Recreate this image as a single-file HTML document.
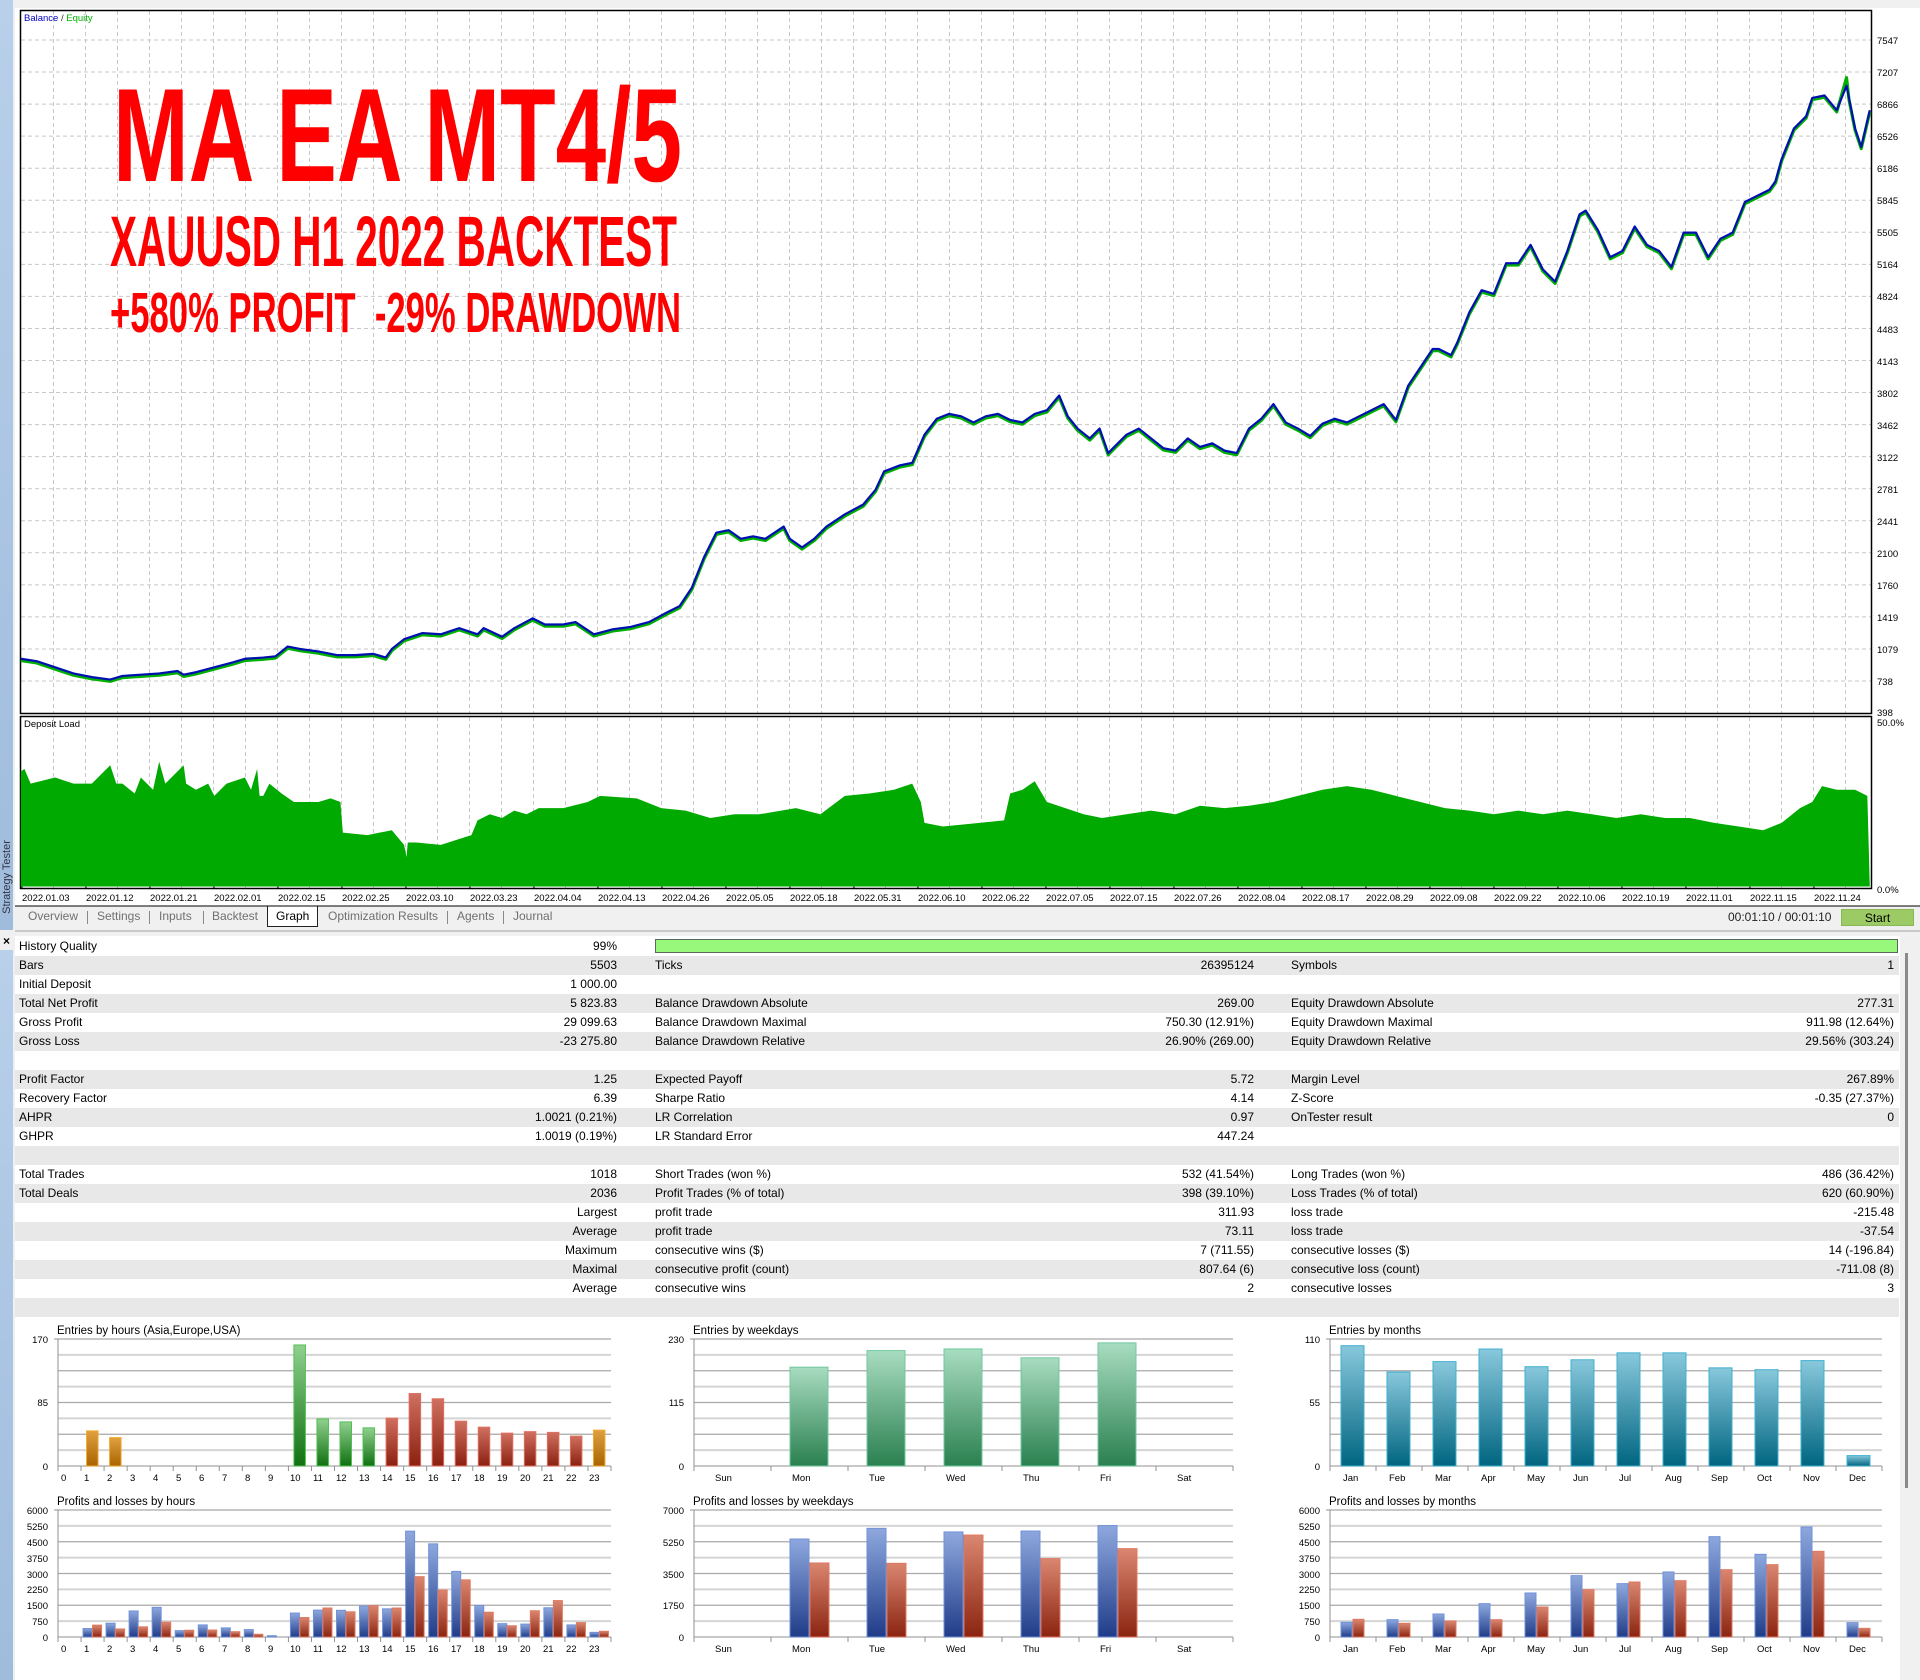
<!DOCTYPE html>
<html><head><meta charset="utf-8">
<style>
*{margin:0;padding:0;box-sizing:border-box}
body{width:1920px;height:1680px;background:#f0f0f0;position:relative;overflow:hidden;font-family:"Liberation Sans",sans-serif;color:#000}
.abs{position:absolute}
.row{position:absolute;left:15px;width:1884px;height:19px;font-size:12px;line-height:19px}
.row.g{background:#e8e8e8}
.row span{position:absolute;white-space:nowrap}
.l1{left:4px}.v1{right:1282px}.l2{left:640px}.v2{right:645px}.l3{left:1276px}.v3{right:5px}
.tab{position:absolute;top:909px;font-size:12px;color:#707070}
</style></head><body>
<div class="abs" style="left:0;top:0;width:13px;height:930px;background:linear-gradient(#b8d0ea,#9fbcdc)"></div>
<div class="abs" style="left:0;top:950px;width:13px;height:730px;background:linear-gradient(#b8d0ea,#9fbcdc)"></div>
<div class="abs" style="left:-41px;top:870px;width:96px;height:14px;transform:rotate(-90deg);font-size:11px;color:#334;line-height:14px;text-align:center">Strategy Tester</div>
<div class="abs" style="left:3px;top:934px;font-size:12px;font-weight:bold">×</div>
<div class="abs" style="left:15px;top:8px;width:1905px;height:898px;background:#fff"></div>
<div class="abs" style="left:15px;top:930px;width:1905px;height:2px;background:#c8c8c8"></div>
<div class="abs" style="left:267px;top:906px;width:51px;height:21px;background:#fff;border:1px solid #222;border-top:none"></div>
<div class="tab" style="left:28px">Overview</div>
<div class="abs" style="left:87px;top:911px;width:1px;height:13px;background:#888"></div>
<div class="tab" style="left:97px">Settings</div>
<div class="abs" style="left:149px;top:911px;width:1px;height:13px;background:#888"></div>
<div class="tab" style="left:159px">Inputs</div>
<div class="abs" style="left:203px;top:911px;width:1px;height:13px;background:#888"></div>
<div class="tab" style="left:212px">Backtest</div>
<div class="tab" style="left:276px;color:#000">Graph</div>
<div class="tab" style="left:328px">Optimization Results</div>
<div class="abs" style="left:447px;top:911px;width:1px;height:13px;background:#888"></div>
<div class="tab" style="left:457px">Agents</div>
<div class="abs" style="left:503px;top:911px;width:1px;height:13px;background:#888"></div>
<div class="tab" style="left:513px">Journal</div>
<div class="abs" style="left:1728px;top:910px;font-size:12px;color:#222">00:01:10 / 00:01:10</div>
<div class="abs" style="left:1841px;top:909px;width:73px;height:17px;background:#9cca64;border:1px solid #8ab858;font-size:12px;text-align:center;line-height:16px">Start</div>

<div class="abs" style="left:15px;top:936px;width:1890px;height:744px;background:#fff"></div>
<div class="abs" style="left:1900px;top:936px;width:20px;height:744px;background:#f0f0f0"></div>
<div class="abs" style="left:1905px;top:953px;width:3px;height:535px;background:#8a8a8a"></div>
<div class="row" style="top:937px"><span class="l1">History Quality</span><span class="v1">99%</span></div>
<div class="abs" style="left:655px;top:939px;width:1243px;height:14px;background:#98f87c;border:1px solid #5a6a5a"></div>
<div class="row g" style="top:956px"><span class="l1">Bars</span><span class="v1">5503</span><span class="l2">Ticks</span><span class="v2">26395124</span><span class="l3">Symbols</span><span class="v3">1</span></div>
<div class="row" style="top:975px"><span class="l1">Initial Deposit</span><span class="v1">1 000.00</span></div>
<div class="row g" style="top:994px"><span class="l1">Total Net Profit</span><span class="v1">5 823.83</span><span class="l2">Balance Drawdown Absolute</span><span class="v2">269.00</span><span class="l3">Equity Drawdown Absolute</span><span class="v3">277.31</span></div>
<div class="row" style="top:1013px"><span class="l1">Gross Profit</span><span class="v1">29 099.63</span><span class="l2">Balance Drawdown Maximal</span><span class="v2">750.30 (12.91%)</span><span class="l3">Equity Drawdown Maximal</span><span class="v3">911.98 (12.64%)</span></div>
<div class="row g" style="top:1032px"><span class="l1">Gross Loss</span><span class="v1">-23 275.80</span><span class="l2">Balance Drawdown Relative</span><span class="v2">26.90% (269.00)</span><span class="l3">Equity Drawdown Relative</span><span class="v3">29.56% (303.24)</span></div>
<div class="row" style="top:1051px"></div>
<div class="row g" style="top:1070px"><span class="l1">Profit Factor</span><span class="v1">1.25</span><span class="l2">Expected Payoff</span><span class="v2">5.72</span><span class="l3">Margin Level</span><span class="v3">267.89%</span></div>
<div class="row" style="top:1089px"><span class="l1">Recovery Factor</span><span class="v1">6.39</span><span class="l2">Sharpe Ratio</span><span class="v2">4.14</span><span class="l3">Z-Score</span><span class="v3">-0.35 (27.37%)</span></div>
<div class="row g" style="top:1108px"><span class="l1">AHPR</span><span class="v1">1.0021 (0.21%)</span><span class="l2">LR Correlation</span><span class="v2">0.97</span><span class="l3">OnTester result</span><span class="v3">0</span></div>
<div class="row" style="top:1127px"><span class="l1">GHPR</span><span class="v1">1.0019 (0.19%)</span><span class="l2">LR Standard Error</span><span class="v2">447.24</span></div>
<div class="row g" style="top:1146px"></div>
<div class="row" style="top:1165px"><span class="l1">Total Trades</span><span class="v1">1018</span><span class="l2">Short Trades (won %)</span><span class="v2">532 (41.54%)</span><span class="l3">Long Trades (won %)</span><span class="v3">486 (36.42%)</span></div>
<div class="row g" style="top:1184px"><span class="l1">Total Deals</span><span class="v1">2036</span><span class="l2">Profit Trades (% of total)</span><span class="v2">398 (39.10%)</span><span class="l3">Loss Trades (% of total)</span><span class="v3">620 (60.90%)</span></div>
<div class="row" style="top:1203px"><span class="v1">Largest</span><span class="l2">profit trade</span><span class="v2">311.93</span><span class="l3">loss trade</span><span class="v3">-215.48</span></div>
<div class="row g" style="top:1222px"><span class="v1">Average</span><span class="l2">profit trade</span><span class="v2">73.11</span><span class="l3">loss trade</span><span class="v3">-37.54</span></div>
<div class="row" style="top:1241px"><span class="v1">Maximum</span><span class="l2">consecutive wins ($)</span><span class="v2">7 (711.55)</span><span class="l3">consecutive losses ($)</span><span class="v3">14 (-196.84)</span></div>
<div class="row g" style="top:1260px"><span class="v1">Maximal</span><span class="l2">consecutive profit (count)</span><span class="v2">807.64 (6)</span><span class="l3">consecutive loss (count)</span><span class="v3">-711.08 (8)</span></div>
<div class="row" style="top:1279px"><span class="v1">Average</span><span class="l2">consecutive wins</span><span class="v2">2</span><span class="l3">consecutive losses</span><span class="v3">3</span></div>
<div class="row g" style="top:1298px"></div>

<svg id="s" class="abs" style="left:0;top:0" width="1920" height="1680" xmlns="http://www.w3.org/2000/svg" font-family="Liberation Sans, sans-serif">
<defs>
<linearGradient id="gOr" x1="0" y1="0" x2="0" y2="1"><stop offset="0" stop-color="#e0a040"/><stop offset="1" stop-color="#a86400"/></linearGradient>
<linearGradient id="gGr" x1="0" y1="0" x2="0" y2="1"><stop offset="0" stop-color="#90d090"/><stop offset="1" stop-color="#107010"/></linearGradient>
<linearGradient id="gRd" x1="0" y1="0" x2="0" y2="1"><stop offset="0" stop-color="#d07060"/><stop offset="1" stop-color="#8a2010"/></linearGradient>
<linearGradient id="gBl" x1="0" y1="0" x2="0" y2="1"><stop offset="0" stop-color="#8ea8de"/><stop offset="1" stop-color="#203c88"/></linearGradient>
<linearGradient id="gRl" x1="0" y1="0" x2="0" y2="1"><stop offset="0" stop-color="#da8670"/><stop offset="1" stop-color="#8a2410"/></linearGradient>
<linearGradient id="gWk" x1="0" y1="0" x2="0" y2="1"><stop offset="0" stop-color="#a8dcc0"/><stop offset="1" stop-color="#2a8050"/></linearGradient>
<linearGradient id="gMo" x1="0" y1="0" x2="0" y2="1"><stop offset="0" stop-color="#88c8dc"/><stop offset="1" stop-color="#006580"/></linearGradient>
</defs>
<g id="grid"></g>
<rect x="20.5" y="10.5" width="1851" height="703" fill="none" stroke="#000" stroke-width="1.5"/>
<rect x="20.5" y="716.5" width="1851" height="172" fill="none" stroke="#000" stroke-width="1.5"/>
<text x="24" y="21" font-size="9.5"><tspan fill="#0000c0">Balance</tspan><tspan fill="#333"> / </tspan><tspan fill="#00b000">Equity</tspan></text>
<text x="24" y="727" font-size="9.5" fill="#000">Deposit Load</text>
<g transform="scale(1.22449)">
<polygon fill="#00aa00" points="17,724 17,630 20,628 25,640 45,635 60,640 75,640 90,625 95,640 100,640 110,648 115,635 125,645 130,622 135,640 150,625 152,640 160,645 170,640 175,650 185,640 200,635 205,645 210,628 212,650 215,650 220,640 230,648 240,655 260,655 270,652 278,655 280,680 300,682 320,678 330,690 332,700 333,688 340,688 360,690 385,682 390,670 400,665 410,668 420,662 430,665 440,660 460,660 480,655 490,650 520,652 540,660 560,662 580,668 600,665 620,665 650,660 670,665 690,650 710,648 730,645 745,640 752,655 755,672 770,675 800,672 820,670 825,648 835,645 845,638 855,655 870,660 885,665 900,668 920,665 940,662 960,665 980,658 1000,660 1020,658 1040,655 1060,650 1080,645 1100,642 1120,645 1140,650 1160,655 1180,660 1200,662 1220,665 1240,662 1260,665 1280,662 1300,665 1320,668 1340,665 1360,668 1380,668 1400,672 1420,675 1440,678 1455,672 1470,660 1480,655 1488,642 1500,645 1515,645 1525,650 1527,724"/>
<polyline fill="none" stroke="#00b000" stroke-width="2.6" stroke-linejoin="round" transform="translate(0,1.4)" points="17,538 30,540 45,545 60,550 75,553 90,555 100,552 115,551 130,550 145,548 150,551 160,549 175,545 190,541 200,538 215,537 225,536 235,528 245,530 260,532 275,535 290,535 305,534 315,537 320,530 330,522 345,517 360,518 375,513 390,518 395,513 410,520 420,513 435,505 445,510 460,510 470,508 485,518 500,514 515,512 530,508 545,500 555,495 565,480 575,455 585,435 595,433 605,440 615,438 625,440 640,430 645,440 655,447 665,440 675,430 690,420 705,412 715,400 722,385 735,380 745,378 755,355 765,342 775,338 785,340 795,345 805,340 815,338 825,343 835,345 845,338 855,335 865,323 872,340 880,350 890,358 898,350 905,370 910,365 920,355 930,350 940,358 950,366 960,368 970,358 980,365 990,362 1000,368 1010,370 1020,350 1030,342 1040,330 1050,345 1060,350 1070,356 1080,346 1090,342 1100,345 1110,340 1120,335 1130,330 1140,343 1150,315 1160,300 1170,285 1175,285 1185,290 1190,280 1200,255 1210,237 1220,240 1230,215 1240,215 1250,200 1260,220 1270,230 1280,205 1290,175 1295,172 1305,188 1315,210 1325,205 1335,185 1345,200 1355,205 1365,218 1375,190 1385,190 1395,210 1405,195 1415,190 1425,165 1435,160 1445,155 1450,148 1455,130 1465,105 1475,95 1480,80 1490,78 1500,90 1508,62 1510,80 1515,105 1520,120 1527,90"/>
<polyline fill="none" stroke="#0010b0" stroke-width="1.8" stroke-linejoin="round" points="17,538 30,540 45,545 60,550 75,553 90,555 100,552 115,551 130,550 145,548 150,551 160,549 175,545 190,541 200,538 215,537 225,536 235,528 245,530 260,532 275,535 290,535 305,534 315,537 320,530 330,522 345,517 360,518 375,513 390,518 395,513 410,520 420,513 435,505 445,510 460,510 470,508 485,518 500,514 515,512 530,508 545,500 555,495 565,480 575,455 585,435 595,433 605,440 615,438 625,440 640,430 645,440 655,447 665,440 675,430 690,420 705,412 715,400 722,385 735,380 745,378 755,355 765,342 775,338 785,340 795,345 805,340 815,338 825,343 835,345 845,338 855,335 865,323 872,340 880,350 890,358 898,350 905,370 910,365 920,355 930,350 940,358 950,366 960,368 970,358 980,365 990,362 1000,368 1010,370 1020,350 1030,342 1040,330 1050,345 1060,350 1070,356 1080,346 1090,342 1100,345 1110,340 1120,335 1130,330 1140,343 1150,315 1160,300 1170,285 1175,285 1185,290 1190,280 1200,255 1210,237 1220,240 1230,215 1240,215 1250,200 1260,220 1270,230 1280,205 1290,175 1295,172 1305,188 1315,210 1325,205 1335,185 1345,200 1355,205 1365,218 1375,190 1385,190 1395,210 1405,195 1415,190 1425,165 1435,160 1445,155 1450,148 1455,130 1465,105 1475,95 1480,80 1490,78 1500,90 1508,70 1510,80 1515,105 1520,120 1527,90"/>
</g>
<g fill="#ff0000" font-weight="bold">
<text x="113" y="181" font-size="133" textLength="569" lengthAdjust="spacingAndGlyphs">MA EA MT4/5</text>
<text x="110" y="266" font-size="71" textLength="567" lengthAdjust="spacingAndGlyphs">XAUUSD H1 2022 BACKTEST</text>
<text x="110" y="332" font-size="57" textLength="571" lengthAdjust="spacingAndGlyphs" xml:space="preserve">+580% PROFIT  -29% DRAWDOWN</text>
</g>
<g font-size="9.5" fill="#000">
<text x="1877" y="44">7547</text><text x="1877" y="76">7207</text><text x="1877" y="108">6866</text><text x="1877" y="140">6526</text><text x="1877" y="172">6186</text><text x="1877" y="204">5845</text><text x="1877" y="236">5505</text><text x="1877" y="268">5164</text><text x="1877" y="300">4824</text><text x="1877" y="333">4483</text><text x="1877" y="365">4143</text><text x="1877" y="397">3802</text><text x="1877" y="429">3462</text><text x="1877" y="461">3122</text><text x="1877" y="493">2781</text><text x="1877" y="525">2441</text><text x="1877" y="557">2100</text><text x="1877" y="589">1760</text><text x="1877" y="621">1419</text><text x="1877" y="653">1079</text><text x="1877" y="685">738</text><text x="1877" y="716">398</text>
<text x="1877" y="726">50.0%</text><text x="1877" y="893">0.0%</text>
</g>
<g font-size="9.5" fill="#000">
<text x="22" y="901">2022.01.03</text><text x="86" y="901">2022.01.12</text><text x="150" y="901">2022.01.21</text><text x="214" y="901">2022.02.01</text><text x="278" y="901">2022.02.15</text><text x="342" y="901">2022.02.25</text><text x="406" y="901">2022.03.10</text><text x="470" y="901">2022.03.23</text><text x="534" y="901">2022.04.04</text><text x="598" y="901">2022.04.13</text><text x="662" y="901">2022.04.26</text><text x="726" y="901">2022.05.05</text><text x="790" y="901">2022.05.18</text><text x="854" y="901">2022.05.31</text><text x="918" y="901">2022.06.10</text><text x="982" y="901">2022.06.22</text><text x="1046" y="901">2022.07.05</text><text x="1110" y="901">2022.07.15</text><text x="1174" y="901">2022.07.26</text><text x="1238" y="901">2022.08.04</text><text x="1302" y="901">2022.08.17</text><text x="1366" y="901">2022.08.29</text><text x="1430" y="901">2022.09.08</text><text x="1494" y="901">2022.09.22</text><text x="1558" y="901">2022.10.06</text><text x="1622" y="901">2022.10.19</text><text x="1686" y="901">2022.11.01</text><text x="1750" y="901">2022.11.15</text><text x="1814" y="901">2022.11.24</text>
</g>
<line x1="15" y1="906" x2="1920" y2="906" stroke="#000" stroke-width="1"/>
<g id="bars"></g>
<g font-size="11.5" fill="#000">
<text x="57" y="1334">Entries by hours (Asia,Europe,USA)</text>
<text x="57" y="1505">Profits and losses by hours</text>
<text x="693" y="1334">Entries by weekdays</text>
<text x="693" y="1505">Profits and losses by weekdays</text>
<text x="1329" y="1334">Entries by months</text>
<text x="1329" y="1505">Profits and losses by months</text>
</g>
<g font-size="9.5" fill="#000" text-anchor="end">
<text x="48" y="1343">170</text><text x="48" y="1406">85</text><text x="48" y="1470">0</text>
<text x="48" y="1514">6000</text><text x="48" y="1530">5250</text><text x="48" y="1546">4500</text><text x="48" y="1562">3750</text><text x="48" y="1578">3000</text><text x="48" y="1593">2250</text><text x="48" y="1609">1500</text><text x="48" y="1625">750</text><text x="48" y="1641">0</text>
<text x="684" y="1343">230</text><text x="684" y="1406">115</text><text x="684" y="1470">0</text>
<text x="684" y="1514">7000</text><text x="684" y="1546">5250</text><text x="684" y="1578">3500</text><text x="684" y="1609">1750</text><text x="684" y="1641">0</text>
<text x="1320" y="1343">110</text><text x="1320" y="1406">55</text><text x="1320" y="1470">0</text>
<text x="1320" y="1514">6000</text><text x="1320" y="1530">5250</text><text x="1320" y="1546">4500</text><text x="1320" y="1562">3750</text><text x="1320" y="1578">3000</text><text x="1320" y="1593">2250</text><text x="1320" y="1609">1500</text><text x="1320" y="1625">750</text><text x="1320" y="1641">0</text>
</g>
<g font-size="9.5" fill="#000">
<text x="61" y="1481">0</text><text x="84" y="1481">1</text><text x="107" y="1481">2</text><text x="130" y="1481">3</text><text x="153" y="1481">4</text><text x="176" y="1481">5</text><text x="199" y="1481">6</text><text x="222" y="1481">7</text><text x="245" y="1481">8</text><text x="268" y="1481">9</text><text x="290" y="1481">10</text><text x="313" y="1481">11</text><text x="336" y="1481">12</text><text x="359" y="1481">13</text><text x="382" y="1481">14</text><text x="405" y="1481">15</text><text x="428" y="1481">16</text><text x="451" y="1481">17</text><text x="474" y="1481">18</text><text x="497" y="1481">19</text><text x="520" y="1481">20</text><text x="543" y="1481">21</text><text x="566" y="1481">22</text><text x="589" y="1481">23</text>
<text x="61" y="1652">0</text><text x="84" y="1652">1</text><text x="107" y="1652">2</text><text x="130" y="1652">3</text><text x="153" y="1652">4</text><text x="176" y="1652">5</text><text x="199" y="1652">6</text><text x="222" y="1652">7</text><text x="245" y="1652">8</text><text x="268" y="1652">9</text><text x="290" y="1652">10</text><text x="313" y="1652">11</text><text x="336" y="1652">12</text><text x="359" y="1652">13</text><text x="382" y="1652">14</text><text x="405" y="1652">15</text><text x="428" y="1652">16</text><text x="451" y="1652">17</text><text x="474" y="1652">18</text><text x="497" y="1652">19</text><text x="520" y="1652">20</text><text x="543" y="1652">21</text><text x="566" y="1652">22</text><text x="589" y="1652">23</text>
<text x="715" y="1481">Sun</text><text x="792" y="1481">Mon</text><text x="869" y="1481">Tue</text><text x="946" y="1481">Wed</text><text x="1023" y="1481">Thu</text><text x="1100" y="1481">Fri</text><text x="1177" y="1481">Sat</text>
<text x="715" y="1652">Sun</text><text x="792" y="1652">Mon</text><text x="869" y="1652">Tue</text><text x="946" y="1652">Wed</text><text x="1023" y="1652">Thu</text><text x="1100" y="1652">Fri</text><text x="1177" y="1652">Sat</text>
<text x="1343" y="1481">Jan</text><text x="1389" y="1481">Feb</text><text x="1435" y="1481">Mar</text><text x="1481" y="1481">Apr</text><text x="1527" y="1481">May</text><text x="1573" y="1481">Jun</text><text x="1619" y="1481">Jul</text><text x="1665" y="1481">Aug</text><text x="1711" y="1481">Sep</text><text x="1757" y="1481">Oct</text><text x="1803" y="1481">Nov</text><text x="1849" y="1481">Dec</text>
<text x="1343" y="1652">Jan</text><text x="1389" y="1652">Feb</text><text x="1435" y="1652">Mar</text><text x="1481" y="1652">Apr</text><text x="1527" y="1652">May</text><text x="1573" y="1652">Jun</text><text x="1619" y="1652">Jul</text><text x="1665" y="1652">Aug</text><text x="1711" y="1652">Sep</text><text x="1757" y="1652">Oct</text><text x="1803" y="1652">Nov</text><text x="1849" y="1652">Dec</text>
</g>
</svg>
<script>
(function(){
var NS='http://www.w3.org/2000/svg';
function el(t,a,p){var e=document.createElementNS(NS,t);for(var k in a)e.setAttribute(k,a[k]);p.appendChild(e);return e;}
var g=document.getElementById('grid');
for(var k=0;k<21;k++){var y=40+32.05*k;el('line',{x1:21,x2:1871,y1:y,y2:y,stroke:'#c8c8c8','stroke-dasharray':'4,3'},g);}
for(var x=53.5;x<1871;x+=32){el('line',{x1:x,x2:x,y1:11,y2:713,stroke:'#c8c8c8','stroke-dasharray':'4,3'},g);el('line',{x1:x,x2:x,y1:717,y2:888,stroke:'#c8c8c8','stroke-dasharray':'4,3'},g);}
for(var i=0;i<29;i++){var xx=22+64*i;el('line',{x1:xx,x2:xx,y1:886,y2:889,stroke:'#000'},g);}
var b=document.getElementById('bars');
function frame(x0,x1,yt,yz,n){
 for(var k=0;k<=8;k++){var y=yt+(yz-yt)*k/8;el('line',{x1:x0,x2:x1,y1:y,y2:y,stroke:(k%2==0)?'#a8a8a8':'#d4d4d4','stroke-width':(k%2==0)?1.2:2},b);}
 el('line',{x1:x0,x2:x0,y1:yt,y2:yz+5,stroke:'#909090'},b);
 var w=(x1-x0)/n;for(var i=0;i<=n;i++){el('line',{x1:x0+i*w,x2:x0+i*w,y1:yz,y2:yz+5,stroke:'#909090'},b);}
 el('line',{x1:x0-4,x2:x0,y1:yt,y2:yt,stroke:'#909090'},b);
 return w;}
function bar(x,w,yz,h,fill,stroke){if(h<=0)return;el('rect',{x:x,y:yz-h,width:w,height:h,fill:fill,stroke:stroke,'stroke-width':1},b);}
var he=[0,47,38,0,0,0,0,0,0,0,162,63,59,51,64,97,90,60,52,44,46,45,40,48];
var w=frame(58,611,1339,1466,24);
for(var i=0;i<24;i++){var c=i<=2||i==23?['url(#gOr)','#f0a830']:(i<=13?['url(#gGr)','#50c050']:['url(#gRd)','#e07060']);bar(58+i*w+5.5,11.5,1466,he[i]/170*127,c[0],c[1]);}
var hp=[[0,0],[400,560],[650,380],[1230,480],[1400,700],[300,320],[570,330],[430,250],[350,130],[60,0],[1130,920],[1270,1370],[1260,1190],[1460,1480],[1330,1370],[5000,2850],[4400,2220],[3100,2700],[1490,1170],[630,530],[610,1240],[1380,1720],[570,680],[220,270]];
w=frame(58,611,1510,1637,24);
for(var i=0;i<24;i++){bar(58+i*w+2,9,1637,hp[i][0]/6000*127,'url(#gBl)','#7090d8');bar(58+i*w+11.5,9,1637,hp[i][1]/6000*127,'url(#gRl)','#e07860');}
var we=[0,179,209,212,196,223,0];
w=frame(694,1233,1339,1466,7);
for(var i=0;i<7;i++)bar(694+i*w+19,38,1466,we[i]/230*127,'url(#gWk)','#70c8a0');
var wp=[[0,0],[5400,4080],[5990,4060],[5790,5620],[5840,4320],[6140,4870],[0,0]];
w=frame(694,1233,1510,1637,7);
for(var i=0;i<7;i++){bar(694+i*w+19,19,1637,wp[i][0]/7000*127,'url(#gBl)','#7090d8');bar(694+i*w+39,19,1637,wp[i][1]/7000*127,'url(#gRl)','#e07860');}
var me=[104.2,81.4,90.4,101.3,86,92,98,98,85,83.4,91.3,9];
w=frame(1330,1882,1339,1466,12);
for(var i=0;i<12;i++)bar(1330+i*w+11,23,1466,me[i]/110*127,'url(#gMo)','#40b0d0');
var mp=[[693,835],[819,646],[1087,756],[1575,819],[2079,1417],[2898,2236],[2520,2598],[3071,2661],[4740,3181],[3906,3417],[5197,4047],[677,410]];
w=frame(1330,1882,1510,1637,12);
for(var i=0;i<12;i++){bar(1330+i*w+11,11,1637,mp[i][0]/6000*127,'url(#gBl)','#7090d8');bar(1330+i*w+23,11,1637,mp[i][1]/6000*127,'url(#gRl)','#e07860');}
})();
</script>
</body></html>
